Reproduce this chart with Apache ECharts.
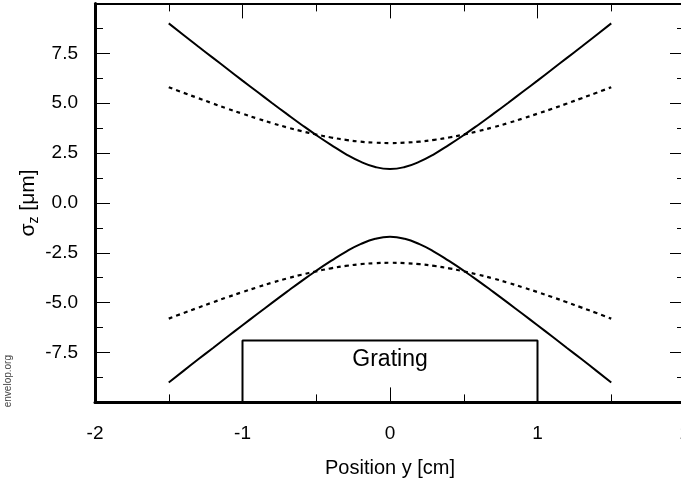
<!DOCTYPE html>
<html>
<head>
<meta charset="utf-8">
<script src="https://cdn.jsdelivr.net/npm/echarts@6/dist/echarts.min.js"></script>
<style>html,body{margin:0;padding:0;background:#fff}#c{width:681px;height:481px}</style>
</head>
<body>
<div id="c"></div>
<script>
// Position y [cm]
var positions = [-1.5,-1.4,-1.3,-1.2,-1.1,-1.0,-0.9,-0.8,-0.7,-0.6,-0.5,-0.4,-0.3,-0.2,-0.1,0.0,0.1,0.2,0.3,0.4,0.5,0.6,0.7,0.8,0.9,1.0,1.1,1.2,1.3,1.4,1.5];
// solid curves (sigma_z, um)
var solidUpper = [9.00,8.42,7.84,7.27,6.70,6.13,5.57,5.01,4.46,3.92,3.40,2.91,2.45,2.07,1.80,1.70,1.80,2.07,2.45,2.91,3.40,3.92,4.46,5.01,5.57,6.13,6.70,7.27,7.84,8.42,9.00];
var solidLower = [-9.00,-8.42,-7.84,-7.27,-6.70,-6.13,-5.57,-5.01,-4.46,-3.92,-3.40,-2.91,-2.45,-2.07,-1.80,-1.70,-1.80,-2.07,-2.45,-2.91,-3.40,-3.92,-4.46,-5.01,-5.57,-6.13,-6.70,-7.27,-7.84,-8.42,-9.00];
// dashed curves (sigma_z, um)
var dashedUpper = [5.80,5.52,5.25,4.98,4.72,4.47,4.23,4.00,3.79,3.60,3.43,3.28,3.16,3.07,3.02,3.00,3.02,3.07,3.16,3.28,3.43,3.60,3.79,4.00,4.23,4.47,4.72,4.98,5.25,5.52,5.80];
var dashedLower = [-5.80,-5.52,-5.25,-4.98,-4.72,-4.47,-4.23,-4.00,-3.79,-3.60,-3.43,-3.28,-3.16,-3.07,-3.02,-3.00,-3.02,-3.07,-3.16,-3.28,-3.43,-3.60,-3.79,-4.00,-4.23,-4.47,-4.72,-4.98,-5.25,-5.52,-5.80];
// grating box outline
var gratingX = [-1, -1, 1, 1];
var gratingY = [-10, -6.9, -6.9, -10];
var gratingLabel = {text: 'Grating', x: 0, y: -7.85};

function pairs(xs, ys){ return xs.map(function(x,i){ return [x, ys[i]]; }); }

var FONT = 'Liberation Sans, Arial, sans-serif';
var chart = echarts.init(document.getElementById('c'), null, {renderer:'canvas'});

var lineCommon = {type:'line', showSymbol:false, symbol:'none', smooth:true, animation:false, silent:true};

chart.setOption({
  animation:false,
  backgroundColor:'#fff',
  grid:{left:95, top:3.4, width:590, height:399, containLabel:false, outerBoundsMode:'none'},
  xAxis:[{
    type:'value', min:-2, max:2, interval:1, position:'bottom',
    name:'Position y [cm]', nameLocation:'middle', nameGap:56, nameMoveOverlap:false,
    nameTextStyle:{fontFamily:FONT, fontSize:20, color:'#000'},
    axisLine:{show:true, onZero:false, lineStyle:{color:'#000', width:3}},
    axisTick:{show:true, inside:true, length:15, lineStyle:{color:'#000', width:1}},
    minorTick:{show:true, splitNumber:2, length:8, lineStyle:{color:'#000', width:1}},
    axisLabel:{show:true, margin:22, fontFamily:FONT, fontSize:19, color:'#000'},
    splitLine:{show:false}
  },{
    type:'value', min:-2, max:2, interval:1, position:'top',
    axisLine:{show:true, onZero:false, lineStyle:{color:'#000', width:2}},
    axisTick:{show:true, inside:true, length:15, lineStyle:{color:'#000', width:1}},
    minorTick:{show:true, splitNumber:2, length:8, lineStyle:{color:'#000', width:1}},
    axisLabel:{show:false}, splitLine:{show:false}
  }],
  yAxis:[{
    type:'value', min:-10, max:10, interval:2.5, position:'left',
    name:'{a|σ}{b|z}{a| [μm]}', nameLocation:'middle', nameGap:54, nameRotate:90, nameMoveOverlap:false,
    nameTextStyle:{fontFamily:FONT, fontSize:21, color:'#000',
      rich:{
        a:{fontFamily:FONT, fontSize:21, color:'#000', lineHeight:23, verticalAlign:'top'},
        b:{fontFamily:FONT, fontSize:14, color:'#000', lineHeight:15, verticalAlign:'bottom'}
      }},
    axisLine:{show:true, onZero:false, lineStyle:{color:'#000', width:3}},
    axisTick:{show:true, inside:true, length:15, lineStyle:{color:'#000', width:1}},
    minorTick:{show:true, splitNumber:2, length:8, lineStyle:{color:'#000', width:1}},
    axisLabel:{show:true, margin:17, fontFamily:FONT, fontSize:19, color:'#000',
      showMinLabel:false, showMaxLabel:false,
      formatter:function(v){ return v.toFixed(1); }},
    splitLine:{show:false}
  },{
    type:'value', min:-10, max:10, interval:2.5, position:'right',
    axisLine:{show:true, onZero:false, lineStyle:{color:'#000', width:2}},
    axisTick:{show:true, inside:true, length:15, lineStyle:{color:'#000', width:1}},
    minorTick:{show:true, splitNumber:2, length:8, lineStyle:{color:'#000', width:1}},
    axisLabel:{show:false}, splitLine:{show:false}
  }],
  series:[
    Object.assign({}, lineCommon, {data:pairs(positions, solidUpper), lineStyle:{color:'#000', width:2, type:'solid'}}),
    Object.assign({}, lineCommon, {data:pairs(positions, solidLower), lineStyle:{color:'#000', width:2, type:'solid'}}),
    Object.assign({}, lineCommon, {data:pairs(positions, dashedUpper), lineStyle:{color:'#000', width:2.2, type:[4,4]}}),
    Object.assign({}, lineCommon, {data:pairs(positions, dashedLower), lineStyle:{color:'#000', width:2.2, type:[4,4]}}),
    Object.assign({}, lineCommon, {smooth:false, data:pairs(gratingX, gratingY), lineStyle:{color:'#000', width:2, type:'solid'}}),
    {type:'scatter', symbolSize:0, silent:true, animation:false,
     itemStyle:{opacity:1},
     data:[[gratingLabel.x, gratingLabel.y]],
     label:{show:true, position:'inside', formatter:gratingLabel.text, fontFamily:FONT, fontSize:23,
            color:'#000', opacity:1, textBorderWidth:0}}
  ],
  graphic:[{
    type:'text', left:3, top:355, rotation:Math.PI/2,
    style:{text:'envelop.org', fontFamily:FONT, fontSize:10, fill:'#444'}
  }]
});
</script>
</body>
</html>
